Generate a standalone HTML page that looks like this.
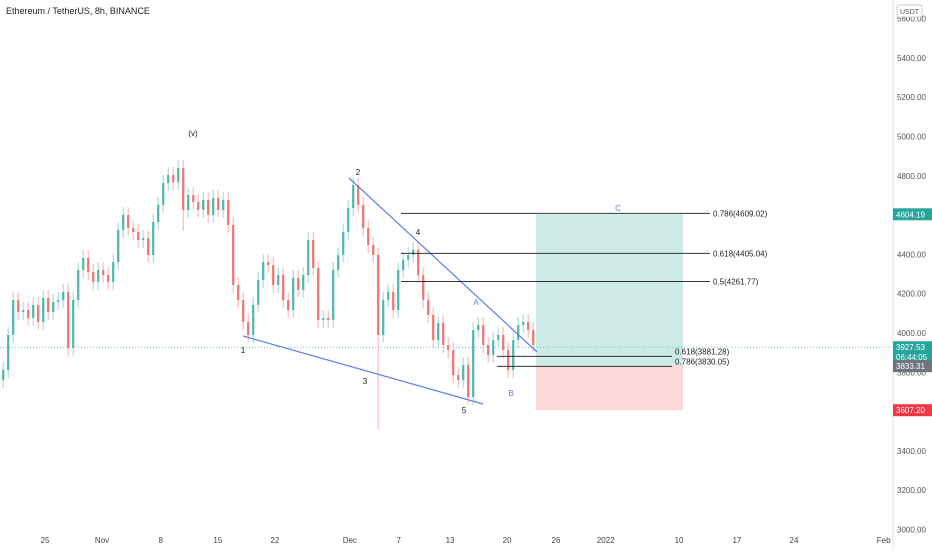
<!DOCTYPE html>
<html><head><meta charset="utf-8"><style>
body{margin:0;background:#fff;font-family:"Liberation Sans",sans-serif;}
svg text{font-family:"Liberation Sans",sans-serif;}
</style></head><body>
<svg id="chart" width="932" height="550" xmlns="http://www.w3.org/2000/svg">
<rect x="0" y="0" width="932" height="550" fill="#fff"/>
<g id="boxes"></g>
<g id="candles"></g>
<g id="overlay"></g>
<g id="axes"></g>
</svg>
<script>
const closes=[3812,3990,4168,4107,4117,4076,4143,4056,4178,4107,4158,4168,4209,3924,4168,4321,4382,4311,4260,4321,4295,4260,4361,4524,4601,4534,4514,4473,4483,4397,4565,4652,4763,4804,4768,4840,4626,4702,4667,4626,4677,4601,4687,4626,4677,4550,4244,4168,4056,3990,4143,4270,4361,4346,4244,4295,4168,4117,4280,4219,4295,4473,4331,4066,4076,4066,4321,4397,4514,4636,4753,4652,4534,4448,4397,3990,4168,4209,4117,4321,4372,4397,4423,4295,4168,4092,3964,4051,3939,3913,3786,3761,3837,3674,4015,4041,3939,3888,3964,3990,3913,3812,3964,4041,4056,4015,3939];
const firstOpen=3760;
const bigWicks={75:3506,13:3880,35:4880,36:4520};
const priceTicks=[5600,5400,5200,5000,4800,4600,4400,4200,4000,3800,3600,3400,3200,3000];
const timeLabels=["25","Nov","8","15","22","Dec","7","13","20","26","2022","10","17","24","Feb"];
const timeDays=[-5.5,1.5,8.7,15.7,22.7,31.9,37.9,44.2,51.2,57.2,63.3,72.3,79.4,86.4,97.4];
const fibLevels=[4609.02,4405.04,4261.77];
const fibLabels=["0.786(4609.02)","0.618(4405.04)","0.5(4261.77)"];
const retrLevels=[3881.28,3830.05];
const retrLabels=["0.618(3881.28)","0.786(3830.05)"];
const lastPrice=3927.53, stopPrice=3607.20, targetPrice=4604.19, entryPrice=3833.31;

const NS="http://www.w3.org/2000/svg";
const y=p=>333-(p-4000)*0.1965;
const xi=i=>2+5*i;
const xd=d=>45+(d+5.5)*8.15;
function el(tag,attrs,parent,txt){const e=document.createElementNS(NS,tag);for(const k in attrs)e.setAttribute(k,attrs[k]);if(txt!==undefined)e.textContent=txt;document.getElementById(parent).appendChild(e);return e;}

let b=el('rect',{x:536,y:y(targetPrice),width:147,height:y(entryPrice)-y(targetPrice),fill:'#cdeae6'},'boxes');


b=el('rect',{x:536,y:y(entryPrice),width:147,height:y(stopPrice)-y(entryPrice),fill:'#fcd9d8'},'boxes');



let prev=firstOpen;
closes.forEach((c,i)=>{
  const o=prev; prev=c;
  const up=c>=o; const col=up?'#26a69a':'#ef5350';
  const hi=Math.max(o,c)+40, lo=(bigWicks[i]!==undefined&&bigWicks[i]<Math.min(o,c))?bigWicks[i]:Math.min(o,c)-40;
  const h=(bigWicks[i]!==undefined&&bigWicks[i]>Math.max(o,c))?bigWicks[i]:hi;
  const x=xi(i);
  const w=el('line',{x1:x+1.2,x2:x+1.2,y1:y(h),y2:y(lo),stroke:col,'stroke-opacity':0.45,'stroke-width':1},'candles');
  
  
  const r=el('rect',{x:x,y:Math.min(y(o),y(c)),width:2.4,height:Math.max(1,Math.abs(y(o)-y(c))),fill:col,'fill-opacity':0.7},'candles');
  
  
});

let l=el('line',{x1:0,x2:893,y1:y(lastPrice),y2:y(lastPrice),stroke:'#26a69a','stroke-dasharray':'1,2','stroke-opacity':0.6},'overlay');



l=el('line',{x1:349,y1:178,x2:537,y2:352,stroke:'#5b7fe8','stroke-width':1.2},'overlay');


l=el('line',{x1:243,y1:336,x2:483,y2:404,stroke:'#5b7fe8','stroke-width':1.2},'overlay');



fibLevels.forEach((p,i)=>{
  const ln=el('line',{x1:401,x2:710,y1:y(p),y2:y(p),stroke:'#333','stroke-width':1},'overlay');
  
  
  const t=el('text',{x:713,y:y(p)+3,'font-size':8,fill:'#222'},'overlay',fibLabels[i]);
  
  
});
retrLevels.forEach((p,i)=>{
  const ln=el('line',{x1:497,x2:672,y1:y(p),y2:y(p),stroke:'#333','stroke-width':1},'overlay');
  
  
  const t=el('text',{x:675,y:y(p)-2,'font-size':8,fill:'#222'},'overlay',retrLabels[i]);
  
  
});

const waves=[["(v)",193,136,'#222'],["1",243,353,'#222'],["2",358,175,'#222'],["3",365,384,'#222'],["4",418,235,'#222'],["5",464,413,'#222'],["A",476,305,'#5b7fe8'],["B",511,396,'#5b7fe8'],["C",618,211,'#5b7fe8']];
waves.forEach(w=>{
  const t=el('text',{x:w[1],y:w[2],'font-size':8,fill:w[3],'text-anchor':'middle'},'overlay',w[0]);
  
  
});

l=el('line',{x1:893,x2:893,y1:0,y2:550,stroke:'#e0e3eb'},'axes');


priceTicks.forEach(p=>{
  const t=el('text',{x:897,y:y(p)+3,'font-size':8,fill:'#555'},'axes',p.toFixed(2));
  
  
});
timeLabels.forEach((s,i)=>{
  const t=el('text',{x:xd(timeDays[i]),y:543,'font-size':8,fill:'#444','text-anchor':'middle'},'axes',s);
  
  
});
let r=el('rect',{x:897,y:5,width:25,height:12,fill:'#fff',stroke:'#ccc',rx:2},'axes');


let tt=el('text',{x:909.5,y:14,'font-size':7,fill:'#555','text-anchor':'middle'},'axes','USDT');



function tag(price,col,lines,name){
  const cy=y(price); const h=lines.length*10+2;
  const g=el('rect',{x:893,y:cy-6,width:39,height:h,fill:col},'axes');
  
  
  lines.forEach((s,k)=>{
    const t=el('text',{x:896,y:cy+3+k*10,'font-size':8,fill:'#fff'},'axes',s);
    
    
  });
}
tag(targetPrice,'#26a69a',[targetPrice.toFixed(2)],'target-price-tag');
tag(lastPrice,'#26a69a',[lastPrice.toFixed(2),'06:44:05'],'last-price-tag');
tag(entryPrice-2,'#6f7480',[entryPrice.toFixed(2)],'entry-price-tag');
tag(stopPrice,'#f23645',[stopPrice.toFixed(2)],'stop-price-tag');

tt=el('text',{x:6,y:14,'font-size':9,fill:'#222'},'axes','Ethereum / TetherUS, 8h, BINANCE');


</script>
</body></html>
